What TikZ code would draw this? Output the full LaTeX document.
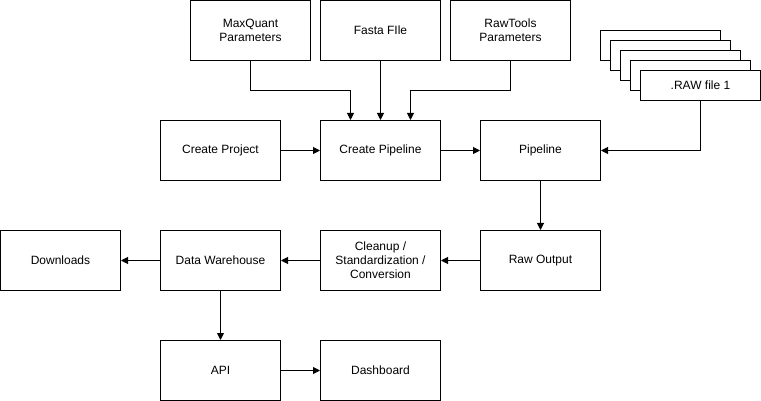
\documentclass[tikz,border=0pt]{standalone}
\usepackage{fontspec}
\setmainfont{Liberation Sans}
\usetikzlibrary{arrows.meta}

\tikzset{
  box/.style={draw, fill=white, line width=1pt, minimum width=120pt, minimum height=60pt,
    align=center, inner sep=2pt, font=\fontsize{12}{14}\selectfont},
  rawbox/.style={box, minimum height=30pt},
  flow/.style={line width=1pt, -{Triangle[length=7pt,width=7pt]}}
}

\begin{document}
\begin{tikzpicture}[x=1pt, y=-1pt]
\useasboundingbox (0,0) rectangle (761,401);
% inputs
\node [box] (mq) at (250.5,30.5) {MaxQuant\\Parameters};
\node [box] (fasta) at (380.5,30.5) {Fasta FIle};
\node [box] (rt) at (510.5,30.5) {RawTools\\Parameters};
% stack of raw files
\foreach \i in {5,4,3,2}
\node [rawbox] (raw\i) at ({660.5+(5-\i)*10},{45.5+(5-\i)*10}) {};
\node [rawbox] (raw1) at (700.5,85.5) {.RAW file 1};
% main rows
\node [box] (cproj) at (220.5,150.5) {Create Project};
\node [box] (cpipe) at (380.5,150.5) {Create Pipeline};
\node [box] (pipe) at (540.5,150.5) {Pipeline};
\node [box] (down) at (60.5,260.5) {Downloads};
\node [box] (dw) at (220.5,260.5) {Data Warehouse};
\node [box] (clean) at (380.5,260.5) {Cleanup /\\Standardization /\\Conversion};
\node [box] (rawout) at (540.5,260.5) {Raw Output};
\node [box] (api) at (220.5,370.5) {API};
\node [box] (dash) at (380.5,370.5) {Dashboard};
% connectors
\draw [flow] (mq.south) -- ++(0,30) -| ([xshift=-30pt]cpipe.north);
\draw [flow] (fasta.south) -- (cpipe.north);
\draw [flow] (rt.south) -- ++(0,30) -| ([xshift=30pt]cpipe.north);
\draw [flow] (raw1.south) |- (pipe.east);
\draw [flow] (cproj.east) -- (cpipe.west);
\draw [flow] (cpipe.east) -- (pipe.west);
\draw [flow] (pipe.south) -- (rawout.north);
\draw [flow] (rawout.west) -- (clean.east);
\draw [flow] (clean.west) -- (dw.east);
\draw [flow] (dw.west) -- (down.east);
\draw [flow] (dw.south) -- (api.north);
\draw [flow] (api.east) -- (dash.west);
\end{tikzpicture}
\end{document}
